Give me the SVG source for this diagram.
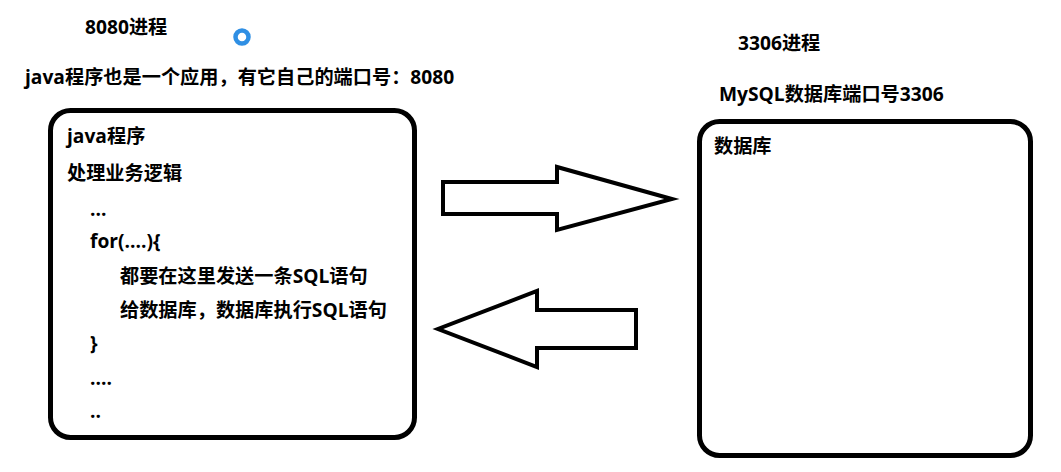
<svg xmlns="http://www.w3.org/2000/svg" width="1061" height="472" viewBox="0 0 1061 472">
<style>
text{font-family:'Open Sans','Noto Sans CJK SC',sans-serif;font-weight:bold;font-size:19.2px;fill:#000}
.box{fill:#fff;stroke:#000;stroke-width:5}
.arrow{fill:#fff;stroke:#000;stroke-width:4;stroke-linejoin:miter}
</style>
<rect width="1061" height="472" fill="#fff"/>
<g id="labels">
<text x="85" y="34">8080进程</text>
<text x="25" y="84">java程序也是一个应用，有它自己的端口号：8080</text>
<text x="738" y="50">3306进程</text>
<text x="719" y="101">MySQL数据库端口号3306</text>
<circle cx="242" cy="37" r="6.5" fill="none" stroke="#2f8fe4" stroke-width="4.5"/>
</g>
<g id="java">
<rect class="box" x="50.5" y="110.5" width="364" height="327" rx="20"/>
<text x="67" y="143">java程序</text>
<text x="67" y="180">处理业务逻辑</text>
<text x="90" y="216">...</text>
<text x="90" y="248">for(....){</text>
<text x="120" y="283">都要在这里发送一条SQL语句</text>
<text x="120" y="317">给数据库，数据库执行SQL语句</text>
<text x="90" y="350">}</text>
<text x="90" y="385">....</text>
<text x="90" y="418">..</text>
</g>
<g id="mysql">
<rect class="box" x="699.5" y="121.5" width="331" height="334" rx="20"/>
<text x="714" y="153">数据库</text>
</g>
<g id="connectors">
<polygon class="arrow" points="443,182 557,182 557,167 672,199 557,230 557,214 443,214"/>
<polygon class="arrow" points="636,310 537,310 537,291 438,329 537,367 537,348 636,348"/>
</g>
</svg>
